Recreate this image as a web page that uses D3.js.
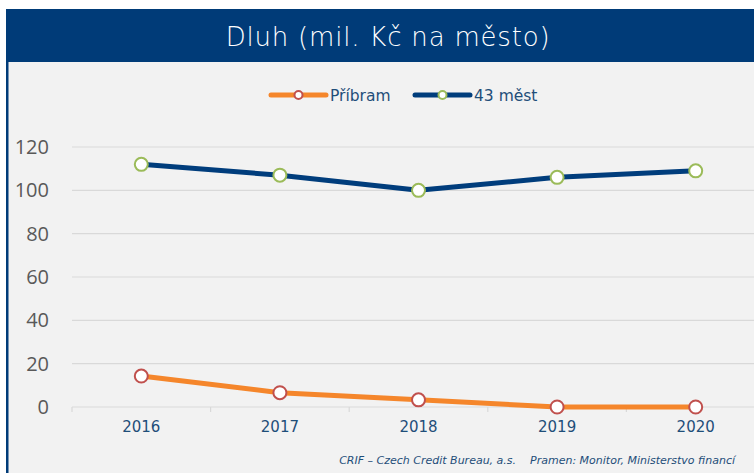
<!DOCTYPE html>
<html>
<head>
<meta charset="utf-8">
<script src="https://cdn.jsdelivr.net/npm/d3@7"></script>
<style>
  body { margin: 0; background: #fff; }
  svg { display: block; }
</style>
</head>
<body>
<svg id="chart" width="754" height="473"></svg>
<script>
// chart data
const years = ["2016", "2017", "2018", "2019", "2020"];
const pribram = [14.3, 6.6, 3.3, 0, 0];
const mest43 = [112, 107, 100, 106, 109];
const yTicks = [0, 20, 40, 60, 80, 100, 120];

const svg = d3.select("#chart");
const W = 754, H = 473;

// background + header
svg.append("rect").attr("x", 7).attr("y", 62).attr("width", W - 7).attr("height", H - 62).attr("fill", "#f2f2f2");
svg.append("rect").attr("x", 6).attr("y", 9).attr("width", W - 6).attr("height", 53).attr("fill", "#003b78");
svg.append("rect").attr("x", 6).attr("y", 62).attr("width", 2.5).attr("height", H - 62).attr("fill", "#003b78");

svg.append("text")
  .attr("x", 388).attr("y", 46)
  .attr("text-anchor", "middle")
  .attr("fill", "#fff")
  .style("font-family", "DejaVu Sans, Verdana, sans-serif")
  .style("font-size", "26px")
  .style("font-weight", "300")
  .style("letter-spacing", "0.8px")
  .text("Dluh (mil. Kč na město)");

const margin = { left: 72, top: 147, bottom: 407 };
const x = d3.scaleBand().domain(years).range([margin.left, margin.left + 138.6 * years.length]);
const y = d3.scaleLinear().domain([0, 120]).range([margin.bottom, margin.top]);

// gridlines
svg.append("g").selectAll("line").data(yTicks).enter().append("line")
  .attr("x1", margin.left).attr("x2", W)
  .attr("y1", d => y(d)).attr("y2", d => y(d))
  .attr("stroke", "#d9d9d9").attr("stroke-width", 1.2);

// y labels
svg.append("g").selectAll("text").data(yTicks).enter().append("text")
  .attr("x", 49).attr("y", d => y(d) + 7)
  .attr("text-anchor", "end")
  .attr("fill", "#595959")
  .style("font-family", "Open Sans, sans-serif")
  .style("font-size", "20px")
  .text(d => d);

// x axis
const xAxis = svg.append("g")
  .attr("transform", `translate(0,${y(0)})`)
  .call(d3.axisBottom(x).tickSize(0).tickPadding(14));
xAxis.select(".domain").remove();
xAxis.selectAll("text")
  .attr("fill", "#1f4e79")
  .style("font-family", "DejaVu Sans, Verdana, sans-serif")
  .style("font-size", "15px");
// tick marks between categories
const bounds = years.map(d => x(d)).concat([x(years[years.length - 1]) + x.bandwidth()]);
svg.append("g").selectAll("line").data(bounds).enter().append("line")
  .attr("x1", d => d).attr("x2", d => d)
  .attr("y1", y(0)).attr("y2", y(0) + 5)
  .attr("stroke", "#d9d9d9").attr("stroke-width", 1.2);

const cx = d => x(d) + x.bandwidth() / 2;
const series = [
  { name: "Příbram", values: pribram, color: "#f5862b", marker: "#c0504d" },
  { name: "43 měst", values: mest43, color: "#003d7c", marker: "#9bbb59" }
];

const line = d3.line().x((d, i) => cx(years[i])).y(d => y(d));

series.forEach(s => {
  svg.append("path")
    .datum(s.values)
    .attr("d", line)
    .attr("fill", "none")
    .attr("stroke", s.color)
    .attr("stroke-width", 5)
    .attr("stroke-linejoin", "round");
  svg.append("g").selectAll("circle").data(s.values).enter().append("circle")
    .attr("cx", (d, i) => cx(years[i]))
    .attr("cy", d => y(d))
    .attr("r", 6.5)
    .attr("fill", "#fff")
    .attr("stroke", s.marker)
    .attr("stroke-width", 2);
});

// legend
const legendX = [271, 415];
series.forEach((s, i) => {
  const g = svg.append("g").attr("transform", `translate(${legendX[i]},95)`);
  g.append("line").attr("x1", 0).attr("x2", 55).attr("y1", 0).attr("y2", 0)
    .attr("stroke", s.color).attr("stroke-width", 5).attr("stroke-linecap", "round");
  g.append("circle").attr("cx", 27.5).attr("cy", 0).attr("r", 4)
    .attr("fill", "#fff").attr("stroke", s.marker).attr("stroke-width", 2);
  g.append("text").attr("x", 59).attr("y", 6)
    .attr("fill", "#1f4e79")
    .style("font-family", "DejaVu Sans, Verdana, sans-serif")
    .style("font-size", "15.5px")
    .text(s.name);
});

// footer
svg.append("text")
  .attr("x", 735).attr("y", 464)
  .attr("text-anchor", "end")
  .attr("fill", "#1f4e79")
  .style("font-family", "DejaVu Sans, Verdana, sans-serif")
  .style("font-size", "11px")
  .style("font-style", "italic")
  .attr("xml:space", "preserve")
  .text("CRIF – Czech Credit Bureau, a.s.    Pramen: Monitor, Ministerstvo financí");
</script>
</body>
</html>
